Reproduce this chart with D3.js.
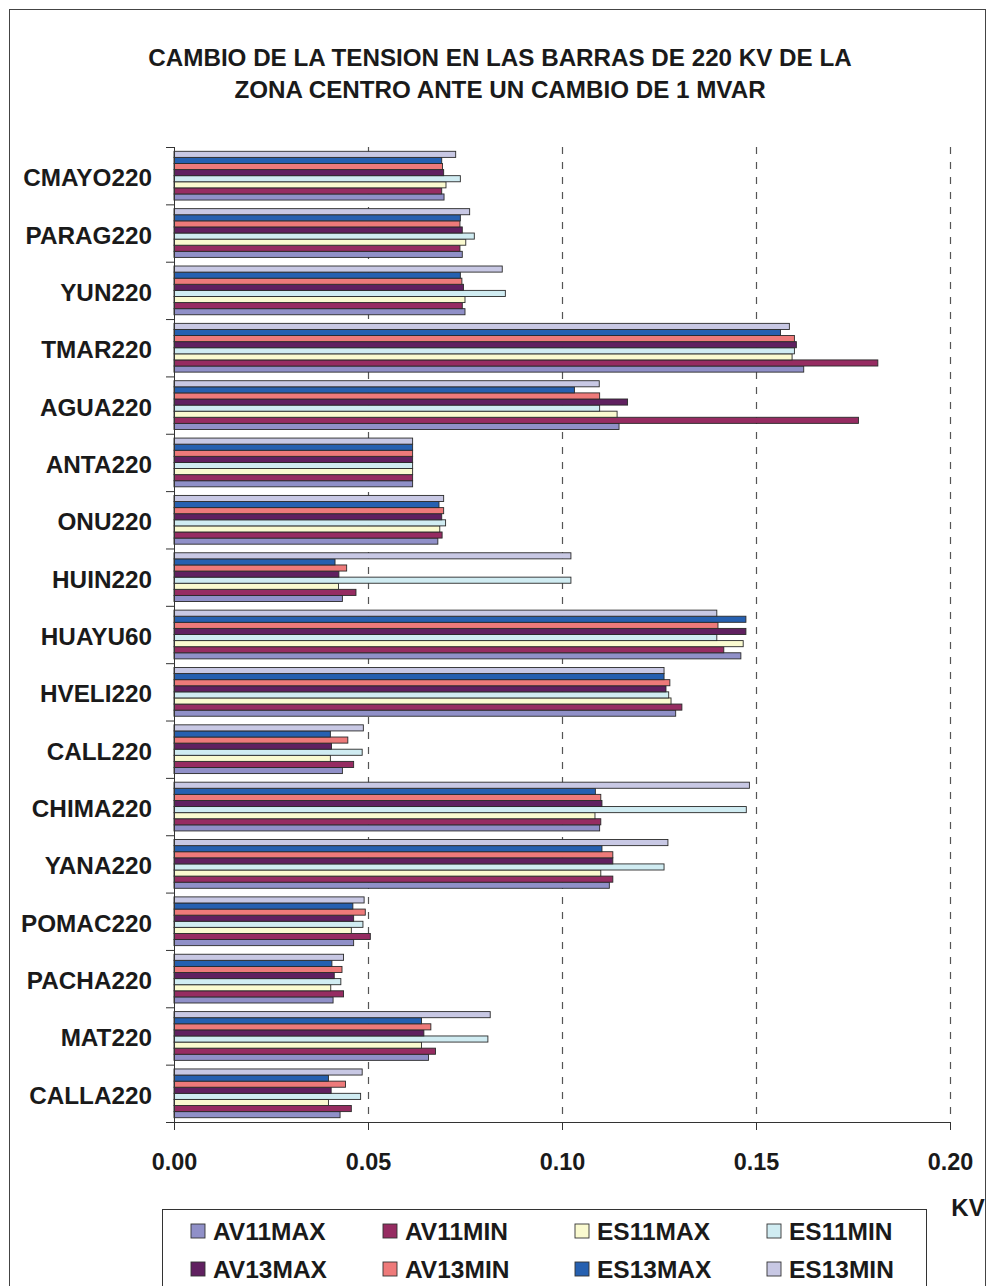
<!DOCTYPE html>
<html>
<head>
<meta charset="utf-8">
<script src="https://cdn.jsdelivr.net/npm/d3@7.9.0/dist/d3.min.js"></script>
<style>
  body { margin: 0; background: #fff; }
  svg text { font-family: "Liberation Sans", Arial, sans-serif; font-weight: bold; fill: #1a1a1a; }
</style>
</head>
<body>
<div id="chart"></div>
<script>
// ---- data ----
const categories = ['CMAYO220', 'PARAG220', 'YUN220', 'TMAR220', 'AGUA220', 'ANTA220', 'ONU220', 'HUIN220',
  'HUAYU60', 'HVELI220', 'CALL220', 'CHIMA220', 'YANA220', 'POMAC220', 'PACHA220', 'MAT220', 'CALLA220'];

const seriesNames = ['AV11MAX', 'AV11MIN', 'ES11MAX', 'ES11MIN', 'AV13MAX', 'AV13MIN', 'ES13MAX', 'ES13MIN'];
const seriesColors = ['#9090c8', '#962c62', '#fafad0', '#d0ecf2', '#602060', '#ee7a7a', '#2660b0', '#c8c8e4'];

// one array per series, in category order
const AV11MAX = [0.0696, 0.0743, 0.0750, 0.1623, 0.1147, 0.0615, 0.0680, 0.0434, 0.1461, 0.1293, 0.0434, 0.1097, 0.1122, 0.0463, 0.0410, 0.0656, 0.0428];
const AV11MIN = [0.0690, 0.0737, 0.0743, 0.1814, 0.1764, 0.0615, 0.0691, 0.0469, 0.1417, 0.1309, 0.0463, 0.1100, 0.1131, 0.0506, 0.0437, 0.0674, 0.0457];
const ES11MAX = [0.0701, 0.0752, 0.0750, 0.1593, 0.1142, 0.0615, 0.0685, 0.0424, 0.1467, 0.1281, 0.0403, 0.1085, 0.1100, 0.0457, 0.0404, 0.0638, 0.0398];
const ES11MIN = [0.0738, 0.0774, 0.0854, 0.1599, 0.1097, 0.0615, 0.0700, 0.1023, 0.1399, 0.1275, 0.0485, 0.1475, 0.1263, 0.0487, 0.0430, 0.0809, 0.0481];
const AV13MAX = [0.0695, 0.0743, 0.0746, 0.1604, 0.1169, 0.0615, 0.0690, 0.0425, 0.1474, 0.1268, 0.0406, 0.1103, 0.1131, 0.0463, 0.0413, 0.0644, 0.0405];
const AV13MIN = [0.0692, 0.0737, 0.0742, 0.1599, 0.1097, 0.0615, 0.0695, 0.0445, 0.1402, 0.1278, 0.0448, 0.1100, 0.1131, 0.0493, 0.0433, 0.0662, 0.0442];
const ES13MAX = [0.0690, 0.0738, 0.0738, 0.1563, 0.1032, 0.0615, 0.0683, 0.0415, 0.1474, 0.1263, 0.0403, 0.1086, 0.1103, 0.0461, 0.0407, 0.0638, 0.0398];
const ES13MIN = [0.0726, 0.0762, 0.0846, 0.1586, 0.1096, 0.0615, 0.0695, 0.1023, 0.1399, 0.1263, 0.0488, 0.1483, 0.1273, 0.0490, 0.0437, 0.0815, 0.0485];

const seriesValues = [AV11MAX, AV11MIN, ES11MAX, ES11MIN, AV13MAX, AV13MIN, ES13MAX, ES13MIN];
const xTicks = [0, 0.05, 0.10, 0.15, 0.20];
const titleLines = ['CAMBIO DE LA TENSION EN LAS BARRAS DE 220 KV DE LA', 'ZONA CENTRO ANTE UN CAMBIO DE 1 MVAR'];

// ---- layout ----
const W = 989, H = 1286;
const plot = { left: 174, right: 950, top: 147, bottom: 1122 };

const svg = d3.select('#chart').append('svg')
  .attr('width', W).attr('height', H)
  .attr('viewBox', `0 0 ${W} ${H}`);

// outer frame
svg.append('rect')
  .attr('x', 9.5).attr('y', 9.5)
  .attr('width', 976).attr('height', H + 20)
  .attr('fill', 'none').attr('stroke', '#444').attr('stroke-width', 1);

// title
svg.append('g').selectAll('text')
  .data(titleLines)
  .join('text')
  .attr('x', 500)
  .attr('y', (d, i) => 65.5 + i * 32)
  .attr('text-anchor', 'middle')
  .attr('font-size', 24.2)
  .text(d => d);

const x = d3.scaleLinear().domain([0, 0.2]).range([plot.left, plot.right]);
const y = d3.scaleBand().domain(categories)
  .range([plot.top, plot.bottom])
  .paddingInner(0.15).paddingOuter(0.075);
// AV11MAX sits at the bottom of each group
const ySub = d3.scaleBand().domain(d3.range(seriesNames.length).reverse())
  .range([0, y.bandwidth()]);

// dashed gridlines
svg.append('g').selectAll('line')
  .data(xTicks.slice(1))
  .join('line')
  .attr('x1', d => x(d) + 0.5).attr('x2', d => x(d) + 0.5)
  .attr('y1', plot.top).attr('y2', plot.bottom)
  .attr('stroke', '#555').attr('stroke-width', 1.2)
  .attr('stroke-dasharray', '7,8');

// bars
const groups = svg.append('g').selectAll('g')
  .data(categories)
  .join('g')
  .attr('transform', d => `translate(0,${y(d)})`);

groups.selectAll('rect')
  .data((c, ci) => seriesValues.map((vals, si) => ({ si, v: vals[ci] })))
  .join('rect')
  .attr('x', x(0))
  .attr('y', d => ySub(d.si))
  .attr('width', d => x(d.v) - x(0))
  .attr('height', ySub.bandwidth())
  .attr('fill', d => seriesColors[d.si])
  .attr('stroke', '#2a2a2a').attr('stroke-width', 0.9);

// y axis line + ticks at band boundaries
const step = y.step();
const boundaries = d3.range(categories.length + 1).map(i => plot.top + i * step);
svg.append('line')
  .attr('x1', plot.left + 0.5).attr('x2', plot.left + 0.5)
  .attr('y1', plot.top).attr('y2', plot.bottom)
  .attr('stroke', '#333');
svg.append('g').selectAll('line')
  .data(boundaries)
  .join('line')
  .attr('x1', plot.left - 8).attr('x2', plot.left)
  .attr('y1', d => d + 0.5).attr('y2', d => d + 0.5)
  .attr('stroke', '#333');

// category labels
svg.append('g').selectAll('text')
  .data(categories)
  .join('text')
  .attr('x', 152)
  .attr('y', d => y(d) + y.bandwidth() / 2 + 2)
  .attr('dy', '0.35em')
  .attr('text-anchor', 'end')
  .attr('font-size', 24.3)
  .text(d => d);

// x axis
const xAxis = svg.append('g')
  .attr('transform', `translate(0,${plot.bottom})`)
  .call(d3.axisBottom(x).tickValues(xTicks).tickFormat(d3.format('.2f')).tickSize(8).tickSizeOuter(0));
xAxis.select('.domain').attr('stroke', '#333');
xAxis.selectAll('.tick line').attr('stroke', '#333');
xAxis.selectAll('.tick text')
  .attr('y', 31)
  .attr('font-size', 23.4)
  .attr('font-family', '"Liberation Sans", Arial, sans-serif')
  .attr('fill', '#1a1a1a');

// unit label
svg.append('text')
  .attr('x', 968).attr('y', 1216)
  .attr('text-anchor', 'middle')
  .attr('font-size', 24)
  .text('KV');

// legend
const legend = svg.append('g');
legend.append('rect')
  .attr('x', 162.5).attr('y', 1209.5)
  .attr('width', 764).attr('height', 120)
  .attr('fill', '#fff').attr('stroke', '#333');

const items = legend.selectAll('g')
  .data(seriesNames)
  .join('g')
  .attr('transform', (d, i) => `translate(${191 + (i % 4) * 192},${1231 + Math.floor(i / 4) * 38})`);
items.append('rect')
  .attr('x', 0).attr('y', -7)
  .attr('width', 14).attr('height', 14)
  .attr('fill', (d, i) => seriesColors[i])
  .attr('stroke', '#333').attr('stroke-width', 0.9);
items.append('text')
  .attr('x', 22).attr('dy', '0.35em')
  .attr('font-size', 24.5)
  .text(d => d);
</script>
</body>
</html>
